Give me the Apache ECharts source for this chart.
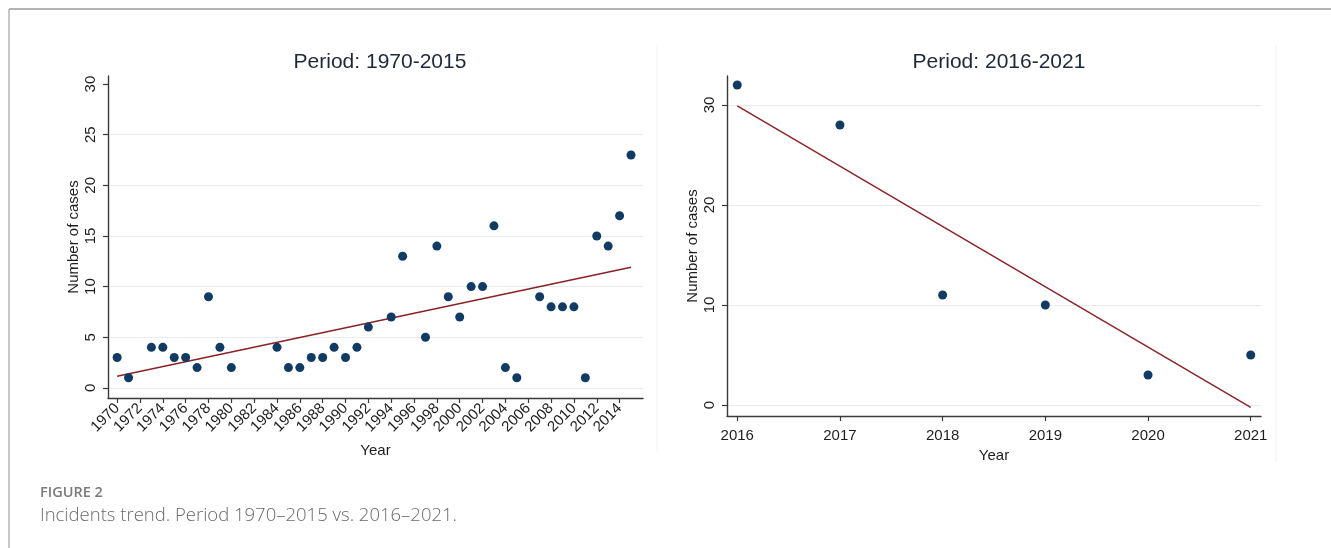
<!DOCTYPE html>
<html>
<head>
<meta charset="utf-8">
<title>Incidents trend</title>
<script src="https://cdn.jsdelivr.net/npm/echarts@6/dist/echarts.min.js"></script>
<style>
  html, body { margin: 0; padding: 0; background: #ffffff; }
  #chart { width: 1331px; height: 548px; }
</style>
</head>
<body>
<div id="chart"></div>
<script>
// Incidents per year, 1970-2015 (years without a recorded incident are absent)
const earlyYears = [1970, 1971, 1973, 1974, 1975, 1976, 1977, 1978, 1979, 1980,
  1984, 1985, 1986, 1987, 1988, 1989, 1990, 1991, 1992, 1994, 1995, 1997, 1998,
  1999, 2000, 2001, 2002, 2003, 2004, 2005, 2007, 2008, 2009, 2010, 2011, 2012,
  2013, 2014, 2015];
const earlyCases = [3, 1, 4, 4, 3, 3, 2, 9, 4, 2,
  4, 2, 2, 3, 3, 4, 3, 4, 6, 7, 13, 5, 14,
  9, 7, 10, 10, 16, 2, 1, 9, 8, 8, 8, 1, 15,
  14, 17, 23];

// Incidents per year, 2016-2021
const lateYears = [2016, 2017, 2018, 2019, 2020, 2021];
const lateCases = [32, 28, 11, 10, 3, 5];

// Tick labels
const earlyXTicks = [1970, 1972, 1974, 1976, 1978, 1980, 1982, 1984, 1986, 1988,
  1990, 1992, 1994, 1996, 1998, 2000, 2002, 2004, 2006, 2008, 2010, 2012, 2014];
const earlyYTicks = [0, 5, 10, 15, 20, 25, 30];
const lateXTicks = [2016, 2017, 2018, 2019, 2020, 2021];
const lateYTicks = [0, 10, 20, 30];

// Ordinary least-squares fit, returned as the two end points of the line
function fitLine(xs, ys) {
  const n = xs.length;
  const mx = xs.reduce((a, b) => a + b, 0) / n;
  const my = ys.reduce((a, b) => a + b, 0) / n;
  let sxy = 0, sxx = 0;
  for (let i = 0; i < n; i++) {
    sxy += (xs[i] - mx) * (ys[i] - my);
    sxx += (xs[i] - mx) * (xs[i] - mx);
  }
  const b = sxy / sxx, a = my - b * mx;
  const x0 = xs[0], x1 = xs[n - 1];
  return [[x0, a + b * x0], [x1, a + b * x1]];
}

const FONT = "'Liberation Sans', Arial, sans-serif";
const CAPTION_FONT = "'Open Sans', Lato, sans-serif";
const AXIS = '#3a3a3a';
const TEXT = '#1e1e1e';
const GRID = '#e6ecf0';
const DOT = '#123b64';
const FIT = '#8a2125';

function pairs(xs, ys) { return xs.map((x, i) => [x, ys[i]]); }

function yAxisOf(idx, min, max, ticks, gridColors) {
  return {
    gridIndex: idx, type: 'value', min: min, max: max,
    name: 'Number of cases', nameLocation: 'middle', nameGap: 27,
    nameTextStyle: { fontFamily: FONT, fontSize: 15, color: TEXT },
    axisLine: { show: true, lineStyle: { color: AXIS, width: 1.4 } },
    axisTick: { show: true, length: 5, customValues: ticks, lineStyle: { color: AXIS, width: 1.2 } },
    axisLabel: { customValues: ticks, rotate: 90, margin: 10, fontFamily: FONT, fontSize: 15, color: TEXT,
      formatter: v => String(v) },
    splitLine: { show: true, lineStyle: { color: gridColors, width: 1.2 } }
  };
}

function xAxisOf(idx, min, max, ticks, rotate, margin, gap) {
  return {
    gridIndex: idx, type: 'value', min: min, max: max,
    name: 'Year', nameLocation: 'middle', nameGap: gap,
    nameTextStyle: { fontFamily: FONT, fontSize: 15, color: TEXT },
    axisLine: { show: true, onZero: false, lineStyle: { color: AXIS, width: 1.4 } },
    axisTick: { show: true, length: 5, customValues: ticks, lineStyle: { color: AXIS, width: 1.2 } },
    axisLabel: { customValues: ticks, rotate: rotate, margin: margin, fontFamily: FONT, fontSize: 15, color: TEXT,
      formatter: v => String(v) },
    splitLine: { show: false }
  };
}

const chart = echarts.init(document.getElementById('chart'), null, { renderer: 'canvas' });

chart.setOption({
  animation: false,
  backgroundColor: '#ffffff',
  title: [
    { text: 'Period: 1970-2015', left: 375, top: 47, textAlign: 'center',
      textStyle: { fontFamily: FONT, fontSize: 21, fontWeight: 'normal', color: '#1d2838' } },
    { text: 'Period: 2016-2021', left: 994, top: 47, textAlign: 'center',
      textStyle: { fontFamily: FONT, fontSize: 21, fontWeight: 'normal', color: '#1d2838' } }
  ],
  grid: [
    { left: 108, top: 76, width: 535, height: 322, containLabel: false },
    { left: 727, top: 76, width: 534, height: 340, containLabel: false }
  ],
  xAxis: [
    xAxisOf(0, 1969.2, 2016.05, earlyXTicks, 45, 8, 45),
    xAxisOf(1, 2015.9, 2021.1, lateXTicks, 0, 12, 21)
  ],
  yAxis: [
    yAxisOf(0, -1, 30.8, earlyYTicks, [GRID, GRID, GRID, GRID, GRID, GRID, 'rgba(0,0,0,0)']),
    yAxisOf(1, -1.1, 32.9, lateYTicks, [GRID])
  ],
  series: [
    { type: 'line', xAxisIndex: 0, yAxisIndex: 0, data: fitLine(earlyYears, earlyCases),
      showSymbol: false, symbol: 'none', lineStyle: { color: FIT, width: 1.4 }, z: 2 },
    { type: 'scatter', xAxisIndex: 0, yAxisIndex: 0, data: pairs(earlyYears, earlyCases),
      symbolSize: 9, itemStyle: { color: DOT, opacity: 1 }, z: 3 },
    { type: 'line', xAxisIndex: 1, yAxisIndex: 1, data: fitLine(lateYears, lateCases),
      showSymbol: false, symbol: 'none', lineStyle: { color: FIT, width: 1.4 }, z: 2 },
    { type: 'scatter', xAxisIndex: 1, yAxisIndex: 1, data: pairs(lateYears, lateCases),
      symbolSize: 9, itemStyle: { color: DOT, opacity: 1 }, z: 3 }
  ],
  graphic: [
    // page frame
    { type: 'line', shape: { x1: 9, y1: 9, x2: 1331, y2: 9 }, style: { stroke: '#b4b4b4', lineWidth: 2 } },
    { type: 'line', shape: { x1: 9, y1: 9, x2: 9, y2: 548 }, style: { stroke: '#b4b4b4', lineWidth: 1.5 } },
    // faint panel separators
    { type: 'line', shape: { x1: 657, y1: 45, x2: 657, y2: 452 }, style: { stroke: '#f2f2f2', lineWidth: 1 } },
    { type: 'line', shape: { x1: 1276, y1: 45, x2: 1276, y2: 462 }, style: { stroke: '#f2f2f2', lineWidth: 1 } },
    // caption
    { type: 'text', left: 40, top: 485,
      style: { text: 'FIGURE 2', fontFamily: CAPTION_FONT, fontSize: 14.5, fontWeight: 600, fill: '#7a7a7a' } },
    { type: 'text', left: 40, top: 506,
      style: { text: 'Incidents trend. Period 1970\u20132015 vs. 2016\u20132021.', fontFamily: CAPTION_FONT,
        fontSize: 18.5, fontWeight: 300, fill: '#6a6a6a' } }
  ]
});
</script>
</body>
</html>
